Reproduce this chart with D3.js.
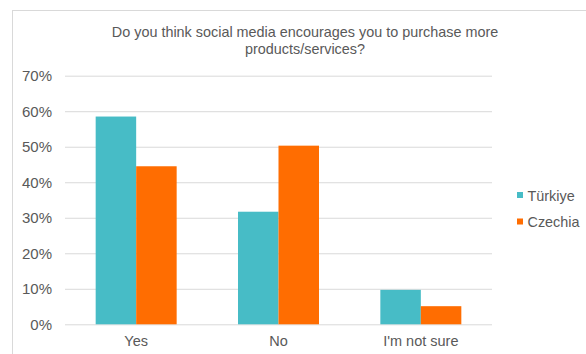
<!DOCTYPE html>
<html>
<head>
<meta charset="utf-8">
<script src="https://cdn.jsdelivr.net/npm/d3@7"></script>
<style>
  html, body { margin: 0; padding: 0; background: #fff; }
  svg { display: block; }
  text { font-family: "Liberation Sans", Arial, Helvetica, sans-serif; fill: #595959; }
</style>
</head>
<body>
<svg id="chart" width="586" height="354"></svg>
<script>
// Survey answers by country (share of respondents)
const categories = ["Yes", "No", "I'm not sure"];
const seriesNames = ["Türkiye", "Czechia"];
const turkiye = [0.585, 0.317, 0.097];
const czechia = [0.445, 0.503, 0.051];
const tickValues = [0, 0.1, 0.2, 0.3, 0.4, 0.5, 0.6, 0.7];
const titleLines = ["Do you think social media encourages you to purchase more", "products/services?"];
const colors = ["#47BCC6", "#FF6D01"];

const seriesValues = [turkiye, czechia];
const rows = categories.map((c, i) => ({
  category: c,
  values: seriesNames.map((s, j) => ({ series: s, value: seriesValues[j][i] }))
}));

const svg = d3.select("#chart");

// outer frame
svg.append("rect")
  .attr("x", 12.5).attr("y", 10.5)
  .attr("width", 640).attr("height", 400)
  .attr("fill", "none").attr("stroke", "#d9d9d9").attr("stroke-width", 1);

const plot = { left: 65, right: 492, top: 75.7, bottom: 324.3 };

const x = d3.scaleBand()
  .domain(categories)
  .range([plot.left, plot.right])
  .paddingInner(0.431)
  .paddingOuter(0.2155);

const xs = d3.scaleBand()
  .domain(seriesNames)
  .range([0, x.bandwidth()]);

const y = d3.scaleLinear()
  .domain([0, 0.7])
  .range([plot.bottom, plot.top]);

// title
svg.append("text")
  .attr("x", 305).attr("y", 36.5)
  .attr("text-anchor", "middle")
  .style("font-size", "14.4px")
  .selectAll("tspan")
  .data(titleLines)
  .join("tspan")
  .attr("x", 305)
  .attr("dy", (d, i) => i === 0 ? 0 : 17)
  .text(d => d);

// gridlines + y labels
const yAxis = d3.axisLeft(y)
  .tickValues(tickValues)
  .tickFormat(d3.format(".0%"))
  .tickSize(-(plot.right - plot.left))
  .tickPadding(13);

const gy = svg.append("g")
  .attr("transform", `translate(${plot.left},0)`)
  .call(yAxis);
gy.select(".domain").remove();
gy.selectAll(".tick line").attr("stroke", "#d9d9d9").attr("stroke-width", 1);
gy.selectAll(".tick text")
  .attr("fill", "#595959")
  .style("font-size", "15px")
  .style("font-family", "'Liberation Sans', Arial, sans-serif");

// bars
const groups = svg.append("g")
  .selectAll("g")
  .data(rows)
  .join("g")
  .attr("transform", d => `translate(${x(d.category)},0)`);

groups.selectAll("rect")
  .data(d => d.values)
  .join("rect")
  .attr("x", d => xs(d.series))
  .attr("y", d => y(d.value))
  .attr("width", xs.bandwidth())
  .attr("height", d => y(0) - y(d.value))
  .attr("fill", (d, i) => colors[i]);

// x axis labels
const xAxis = d3.axisBottom(x).tickSize(0).tickPadding(11);
const gx = svg.append("g")
  .attr("transform", `translate(0,${plot.bottom})`)
  .call(xAxis);
gx.select(".domain").remove();
gx.selectAll(".tick text")
  .attr("fill", "#595959")
  .style("font-size", "14.5px")
  .style("font-family", "'Liberation Sans', Arial, sans-serif");

// legend
const legend = svg.append("g")
  .selectAll("g")
  .data(seriesNames)
  .join("g")
  .attr("transform", (d, i) => `translate(517,${192 + i * 26.5})`);
legend.append("rect")
  .attr("width", 6).attr("height", 6)
  .attr("fill", (d, i) => colors[i]);
legend.append("text")
  .attr("x", 10.5).attr("y", 8.5)
  .style("font-size", "14.4px")
  .text(d => d);
</script>
</body>
</html>
